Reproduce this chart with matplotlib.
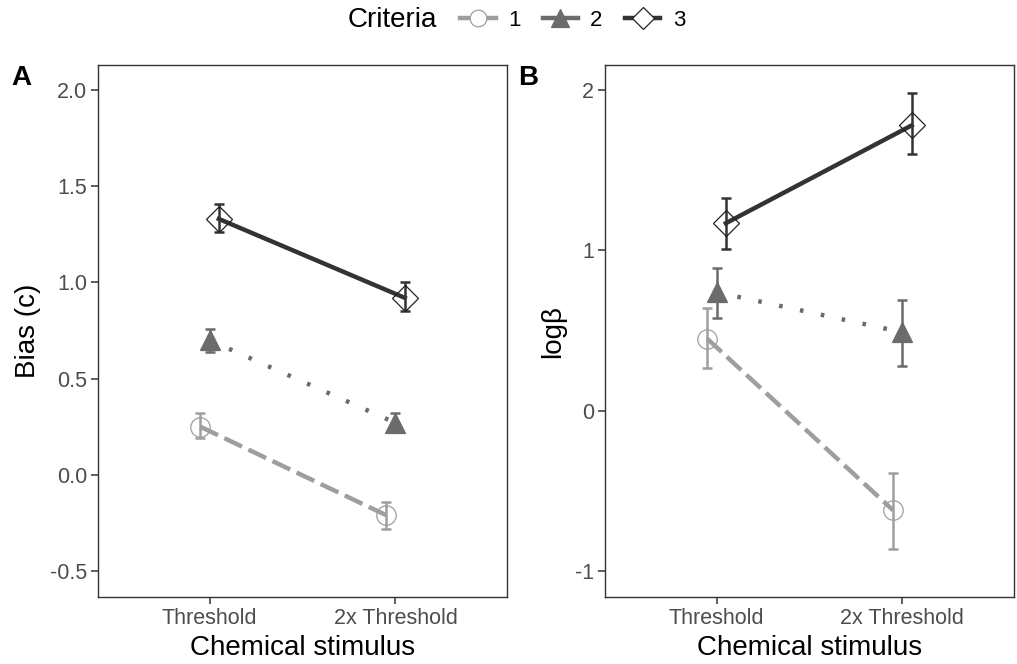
import matplotlib
matplotlib.use("Agg")
import matplotlib.pyplot as plt
from matplotlib.lines import Line2D
import numpy as np

plt.rcParams['font.family'] = ['Liberation Sans', 'DejaVu Sans']

# data
stimulus = ["Threshold", "2x Threshold"]
criteria = ["1", "2", "3"]

bias_mean = [[0.25, -0.21], [0.70, 0.27], [1.33, 0.92]]
bias_lo = [[0.19, -0.28], [0.64, 0.22], [1.26, 0.85]]
bias_hi = [[0.32, -0.14], [0.76, 0.32], [1.41, 1.00]]

logb_mean = [[0.45, -0.62], [0.74, 0.49], [1.17, 1.78]]
logb_lo = [[0.27, -0.86], [0.58, 0.28], [1.01, 1.60]]
logb_hi = [[0.64, -0.39], [0.89, 0.69], [1.33, 1.98]]

colors = ["#9E9E9E", "#6B6B6B", "#333333"]
markers = ["o", "^", "D"]
faces = ["none", "#6B6B6B", "none"]
msizes = [14, 15, 13.5]
lstyles = [(0, (4.4, 1.6)), (0, (0.8, 4.0)), "-"]
dodge = [-0.05, 0.0, 0.05]


def draw_panel(ax, mean, lo, hi, ylim, yticks, yticklabels, ylabel, tag):
    x = np.arange(1, len(stimulus) + 1)
    for i in range(len(criteria)):
        xs = x + dodge[i]
        m = np.array(mean[i])
        err = [m - np.array(lo[i]), np.array(hi[i]) - m]
        ax.errorbar(xs, m, yerr=err, fmt="none", ecolor=colors[i],
                    elinewidth=1.8, capsize=3.5, capthick=1.8, zorder=2)
        ax.plot(xs, m, color=colors[i], linestyle=lstyles[i], lw=3.2,
                dash_capstyle="butt", zorder=3)
        ax.plot(xs, m, linestyle="none", marker=markers[i], ms=msizes[i],
                mfc=faces[i], mec=colors[i] if i < 2 else "#222222",
                mew=0.9, zorder=4)
    ax.set_xlim(0.4, 2.6)
    ax.set_ylim(*ylim)
    ax.set_xticks(x)
    ax.set_xticklabels(stimulus)
    ax.set_yticks(yticks)
    ax.set_yticklabels(yticklabels)
    ax.tick_params(colors="#333333", labelcolor="#4D4D4D", labelsize=15.5,
                   length=5, width=1.1, pad=3)
    for s in ax.spines.values():
        s.set_color("#333333")
        s.set_linewidth(1.0)
    ax.set_xlabel("Chemical stimulus", fontsize=20, labelpad=4)
    ax.set_ylabel(ylabel, fontsize=20, labelpad=6)
    ax.text(-0.212, 1.0, tag, transform=ax.transAxes, fontsize=20,
            fontweight="bold", va="top", ha="left")


fig = plt.figure(figsize=(10.17, 6.64), dpi=100)
axA = fig.add_axes([0.0964, 0.101, 0.4021, 0.801])
axB = fig.add_axes([0.5949, 0.101, 0.4021, 0.801])

draw_panel(axA, bias_mean, bias_lo, bias_hi, (-0.635, 2.13),
           [-0.5, 0, 0.5, 1.0, 1.5, 2.0],
           ["-0.5", "0.0", "0.5", "1.0", "1.5", "2.0"], "Bias (c)", "A")
draw_panel(axB, logb_mean, logb_lo, logb_hi, (-1.16, 2.156),
           [-1, 0, 1, 2], ["-1", "0", "1", "2"], "log\u03b2", "B")

# legend across the top: title as text, keys as a one-row legend
fig.text(348 / 1017, 1 - 20 / 664, "Criteria", fontsize=20, va="center", ha="left")
handles = []
for i in range(len(criteria)):
    handles.append(Line2D([], [], color=colors[i], linestyle="-", lw=3.2,
                          marker=markers[i], ms=msizes[i] - 2,
                          mfc=faces[i] if i == 1 else "white",
                          mec=colors[i] if i < 2 else "#222222", mew=0.9))
fig.legend(handles, criteria, loc="center left",
           bbox_to_anchor=(460 / 1017, 1 - 20 / 664), ncol=3, frameon=False,
           fontsize=16, handlelength=1.6, columnspacing=1.0,
           handletextpad=0.55, borderpad=0, borderaxespad=0)

fig.savefig("out.png", dpi=100)
